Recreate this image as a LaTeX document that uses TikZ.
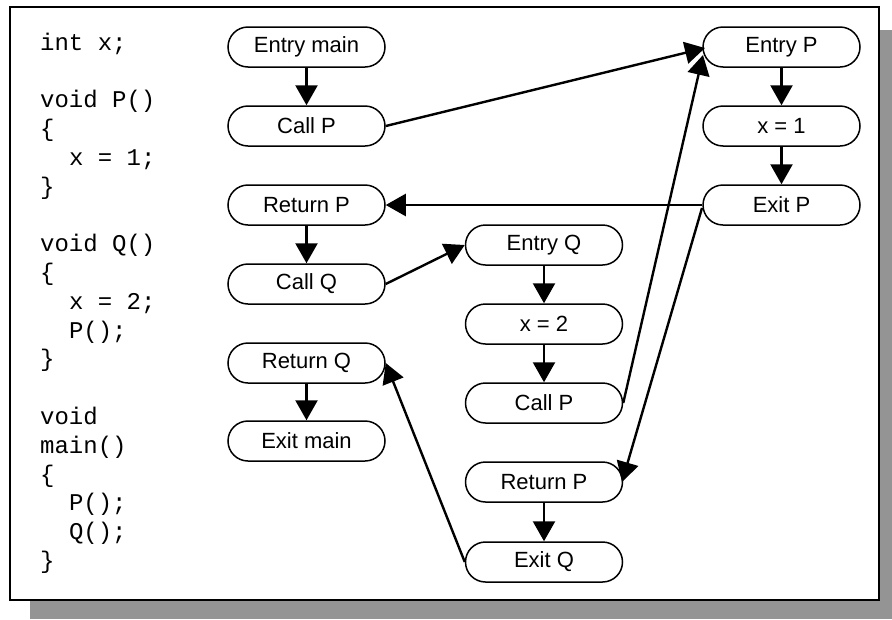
\documentclass[tikz,border=0pt]{standalone}
\usepackage{fontspec}
\setmainfont{Liberation Sans}
\newfontfamily\codefont{Liberation Mono}
\usetikzlibrary{arrows.meta}

\tikzset{
  blk/.style={draw, line width=1.5pt, rounded corners=20pt,
    minimum width=157pt, minimum height=40pt, inner sep=0pt,
    font=\fontsize{22}{24}\selectfont},
  flow/.style={line width=2.4pt, -{Triangle[length=20pt,width=22pt]}},
  codeline/.style={anchor=base west, inner sep=0pt,
    font=\codefont\fontsize{24}{28.8}\selectfont},
  shade/.style={fill=black!42}
}

\begin{document}
\begin{tikzpicture}[x=1pt, y=-1pt]
  \useasboundingbox (0,0) rectangle (892,619);
  \fill[white] (0,0) rectangle (892,619);

  % drop shadow and frame
  \fill[shade] (879,30) rectangle (892,619);
  \fill[shade] (30,600) rectangle (892,619);
  \draw[line width=1.6pt, fill=white] (10,7) rectangle (879,600);

  % source program
  \foreach \n/\tx in {0/{int x;}, 2/{void P()}, 3/{\{}, 4/{\phantom{xx}x = 1;}, 5/{\}},
                      7/{void Q()}, 8/{\{}, 9/{\phantom{xx}x = 2;}, 10/{\phantom{xx}P();}, 11/{\}},
                      13/{void}, 14/{main()}, 15/{\{}, 16/{\phantom{xx}P();}, 17/{\phantom{xx}Q();}, 18/{\}}}
    \node[codeline] (src\n) at (40,{50+28.8*\n}) {\tx};

  % main
  \node[blk] (em)  at (306.5,47)  {Entry main};
  \node[blk] (cp1) at (306.5,126) {Call P};
  \node[blk] (rp1) at (306.5,205) {Return P};
  \node[blk] (cq)  at (306.5,284) {Call Q};
  \node[blk] (rq)  at (306.5,363) {Return Q};
  \node[blk] (xm)  at (306.5,441) {Exit main};

  % Q
  \node[blk] (eq)  at (544,245) {Entry Q};
  \node[blk] (x2)  at (544,324) {x = 2};
  \node[blk] (cp2) at (544,403) {Call P};
  \node[blk] (rp2) at (544,482) {Return P};
  \node[blk] (xq)  at (544,562) {Exit Q};

  % P
  \node[blk] (ep)  at (781.5,47)  {Entry P};
  \node[blk] (x1)  at (781.5,126) {x = 1};
  \node[blk] (xp)  at (781.5,205) {Exit P};

  % intraprocedural edges
  \draw[flow] (em) -- (cp1);
  \draw[flow] (rp1) -- (cq);
  \draw[flow] (rq) -- (xm);
  \draw[flow] (eq) -- (x2);
  \draw[flow] (x2) -- (cp2);
  \draw[flow] (rp2) -- (xq);
  \draw[flow] (ep) -- (x1);
  \draw[flow] (x1) -- (xp);

  % call and return edges
  \coordinate (epin1) at (705,48);
  \coordinate (epin2) at (703,55);
  \coordinate (xpout) at (702,208);
  \coordinate (rp2in) at (622,482);
  \draw[flow] (cp1.east) -- (epin1);
  \draw[flow] (cp2.east) -- (epin2);
  \draw[flow] (xp.west) -- (rp1.east);
  \draw[flow] (xpout) -- (rp2in);
  \draw[flow] (cq.east) -- (eq.west);
  \draw[flow] (xq.west) -- (rq.east);
\end{tikzpicture}
\end{document}
